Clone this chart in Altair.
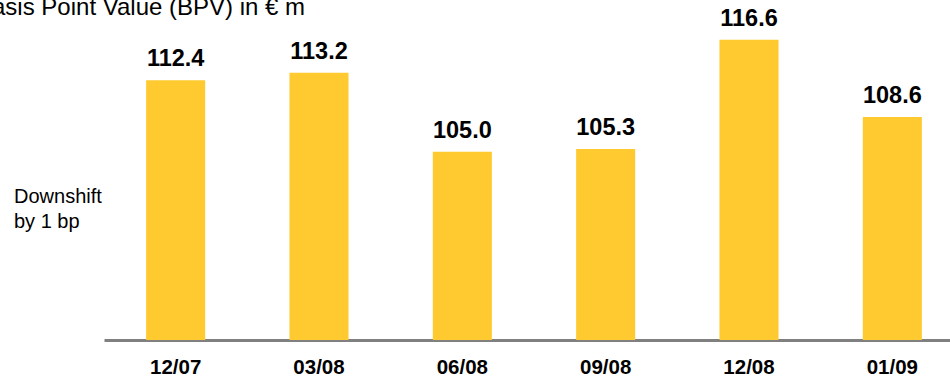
import altair as alt
import pandas as pd

periods = ["12/07", "03/08", "06/08", "09/08", "12/08", "01/09"]
bpv = [112.4, 113.2, 105.0, 105.3, 116.6, 108.6]
title_text = ["Basis Point Value (BPV) in € m"]
side_text = ["Downshift", "by 1 bp"]

FONT = "Liberation Sans"
BASE = 85.5

df = pd.DataFrame({"period": periods, "bpv": bpv,
                   "label": [f"{v:.1f}" for v in bpv]})

xscale = alt.Scale(domain=periods, range=[0, 860], paddingInner=0.588, paddingOuter=0.294)
yscale = alt.Scale(domain=[BASE, 120], zero=False)

x = alt.X("period:N", scale=xscale, sort=periods,
          axis=alt.Axis(title=None, labelAngle=0, labelFont=FONT, labelFontSize=20.5,
                        labelFontWeight="bold", labelColor="#000000", labelPadding=17,
                        ticks=False, domainColor="#808080", domainWidth=3))

bars = alt.Chart(df).mark_bar(color="#FFCA2F").encode(
    x=x,
    y=alt.Y("bpv:Q", scale=yscale, axis=None),
    y2=alt.datum(BASE),
)

labels = alt.Chart(df).mark_text(font=FONT, fontSize=23.5, fontWeight="bold",
                                 color="#000000", baseline="alphabetic", dy=-14).encode(
    x=alt.X("period:N", scale=xscale, sort=periods),
    y=alt.Y("bpv:Q", scale=yscale),
    text="label:N",
)

title = alt.Chart(pd.DataFrame({"t": title_text})).mark_text(
    font=FONT, fontSize=24, color="#000000", align="left", baseline="alphabetic"
).encode(x=alt.value(-128), y=alt.value(8), text="t:N")

side = alt.Chart(pd.DataFrame({"t": [side_text]})).mark_text(
    font=FONT, fontSize=20, color="#000000", align="left", baseline="alphabetic",
    lineHeight=25
).encode(x=alt.value(-90), y=alt.value(196), text="t")

chart = alt.layer(bars, labels, title, side).properties(
    width=846, height=333,
    autosize=alt.AutoSizeParams(type="none"),
    padding={"left": 104, "top": 7, "right": 0, "bottom": 40},
).configure_view(stroke=None)

chart.save("out.html", embed_options={"renderer": "svg", "actions": False})
